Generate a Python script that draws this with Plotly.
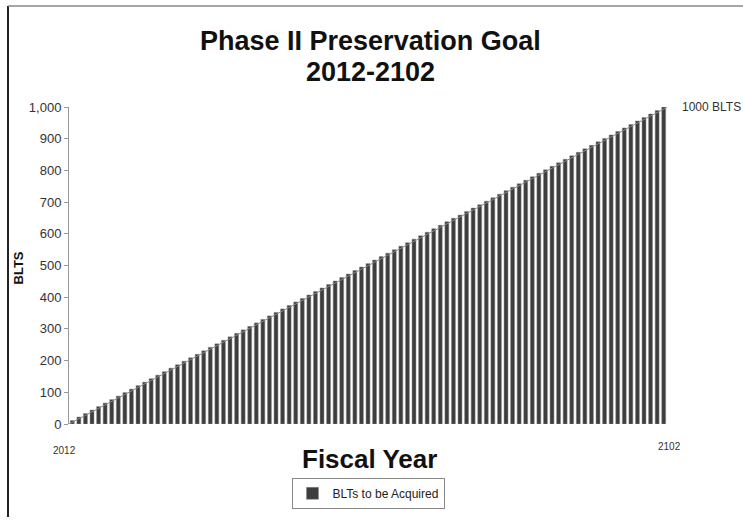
import plotly.graph_objects as go

years = list(range(2012, 2103))
blts = [11, 22, 33, 44, 55, 66, 77, 88, 99, 110, 121, 132, 143, 154, 165, 176, 187, 198, 209, 220,
        231, 242, 253, 264, 275, 286, 297, 308, 319, 330, 341, 352, 363, 374, 385, 396, 407, 418, 429, 440,
        451, 462, 473, 484, 495, 506, 517, 528, 539, 550, 561, 572, 583, 594, 605, 616, 627, 638, 649,
        659, 670, 681, 692, 703, 714, 725, 736, 747, 758, 769, 780, 791, 802, 813, 824, 835, 846, 857, 868,
        879, 890, 901, 912, 923, 934, 945, 956, 967, 978, 989, 1000]
goal_x = [2011.5, 2102.6]
goal_y = [0, 1000]
y_ticks = [0, 100, 200, 300, 400, 500, 600, 700, 800, 900, 1000]
x_labels = ["2012", "2102"]
title_lines = ["Phase II Preservation Goal", "2012-2102"]

W, H = 743, 521
ML, MR, MT, MB = 69, 76, 107, 94
PW, PH = W - ML - MR, H - MT - MB

def px_x(p):
    return (p - ML) / PW

def px_y(p):
    return (H - MB - p) / PH

fig = go.Figure()
fig.add_trace(go.Bar(
    x=years, y=blts, name="BLTs to be Acquired",
    marker=dict(color="#3d3d3d", line=dict(color="#8a8a8a", width=0.5)),
))
fig.add_trace(go.Scatter(
    x=goal_x, y=goal_y, mode="lines", showlegend=False, cliponaxis=False,
    line=dict(color="#8a8a8a", width=1), hoverinfo="skip",
))

annotations = [
    dict(text="<b>" + title_lines[0] + "</b>", xref="paper", yref="paper",
         x=px_x(370), y=px_y(40), xanchor="center", yanchor="middle",
         showarrow=False, font=dict(size=27, color="#111")),
    dict(text="<b>" + title_lines[1] + "</b>", xref="paper", yref="paper",
         x=px_x(370), y=px_y(72), xanchor="center", yanchor="middle",
         showarrow=False, font=dict(size=27, color="#111")),
    dict(text="<b>Fiscal Year</b>", xref="paper", yref="paper",
         x=px_x(369), y=px_y(462), xanchor="center", yanchor="middle",
         showarrow=False, font=dict(size=26, color="#111")),
    dict(text="<b>BLTS</b>", xref="paper", yref="paper",
         x=px_x(18), y=px_y(270), xanchor="center", yanchor="middle",
         textangle=-90, showarrow=False, font=dict(size=13, color="#111")),
    dict(text="1000 BLTS", xref="paper", yref="paper", x=px_x(680), y=px_y(107),
         xanchor="left", yanchor="middle", showarrow=False,
         font=dict(size=12, color="#333")),
    dict(text=x_labels[0], xref="paper", yref="paper", x=px_x(64), y=px_y(454),
         xanchor="center", yanchor="middle", showarrow=False,
         font=dict(size=10, color="#333")),
    dict(text=x_labels[1], xref="paper", yref="paper", x=px_x(669), y=px_y(450),
         xanchor="center", yanchor="middle", showarrow=False,
         font=dict(size=10, color="#333")),
]

fig.update_layout(
    width=W, height=H,
    margin=dict(l=ML, r=MR, t=MT, b=MB),
    paper_bgcolor="white", plot_bgcolor="white",
    font=dict(family="Liberation Sans, Arial, sans-serif", color="#333"),
    bargap=0.4,
    showlegend=True,
    legend=dict(x=0.5, xanchor="center", y=px_y(497), yanchor="middle",
                orientation="h", bordercolor="#888", borderwidth=1,
                font=dict(size=12, color="#222"), itemwidth=30,
                tracegroupgap=0),
    xaxis=dict(range=[2011.5, 2102.5], showticklabels=False,
               showline=False, showgrid=False, zeroline=False, ticks=""),
    yaxis=dict(range=[0, 1000], tickvals=y_ticks, tickformat=",",
               showline=True, linecolor="#999", linewidth=1,
               ticks="outside", ticklen=4, tickcolor="#999",
               showgrid=False, zeroline=False,
               tickfont=dict(size=13, color="#333")),
    shapes=[
        dict(type="line", xref="paper", yref="paper", x0=px_x(8), x1=px_x(8),
             y0=px_y(5), y1=px_y(521), line=dict(color="#222", width=2)),
        dict(type="line", xref="paper", yref="paper", x0=px_x(8), x1=px_x(743),
             y0=px_y(5), y1=px_y(5), line=dict(color="#888", width=1.5)),
    ],
    annotations=annotations,
)

fig.write_html("out.html")
